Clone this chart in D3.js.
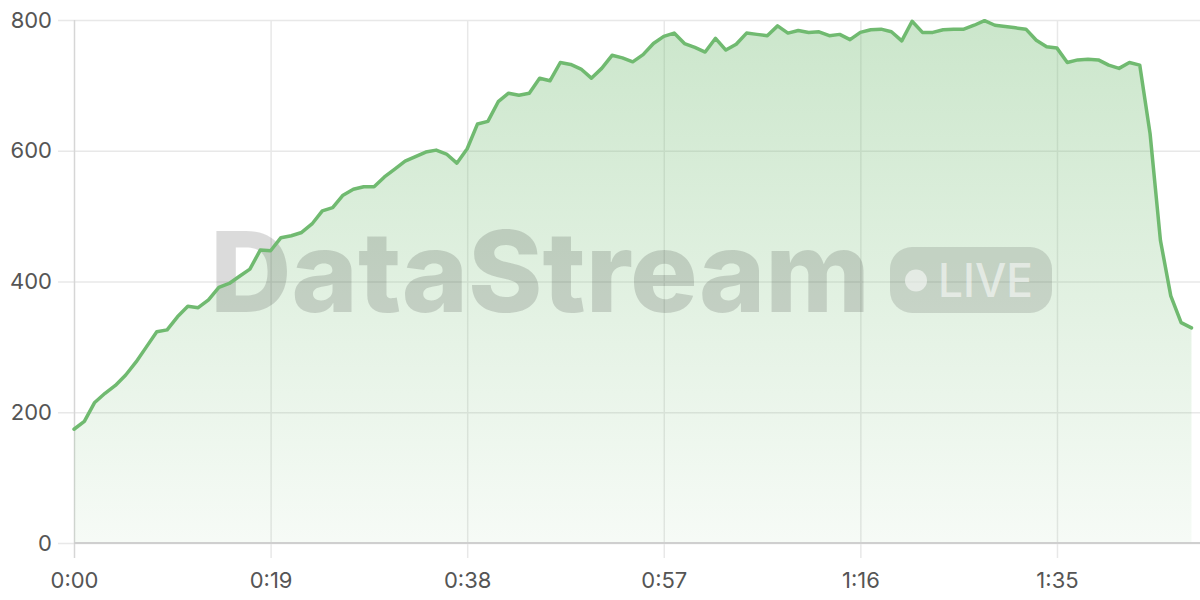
<!DOCTYPE html>
<html>
<head>
<meta charset="utf-8">
<script src="https://cdn.jsdelivr.net/npm/d3@7"></script>
<style>
  html, body { margin: 0; padding: 0; background: #fff; }
  svg { display: block; }
  .tick text { font-family: Inter, "Noto Sans", sans-serif; font-size: 22px; fill: #555; }
</style>
</head>
<body>
<svg id="chart" width="1200" height="600"></svg>
<script>
// one sample per second, index = seconds since start
const throughput = [
  174, 186, 215, 229, 241, 257, 277, 300, 323, 326,
  346, 362, 360, 372, 391, 397, 408, 419, 448, 447,
  467, 470, 475, 488, 508, 513, 532, 541, 545, 545,
  560, 572, 584, 591, 598, 601, 595, 581, 603, 641,
  645, 675, 688, 685, 688, 711, 707, 735, 732, 725,
  711, 726, 746, 742, 736, 747, 764, 775, 780, 764,
  758, 751, 772, 754, 763, 780, 778, 776, 791, 780,
  784, 781, 782, 776, 778, 770, 781, 785, 786, 782,
  768, 798, 781, 781, 785, 786, 786, 792, 799, 792,
  790, 788, 786, 769, 759, 757, 735, 739, 740, 739,
  731, 726, 735, 731, 626, 463, 378, 337, 329
];
const tickSeconds = [0, 19, 38, 57, 76, 95];
const yTicks = [0, 200, 400, 600, 800];

const svg = d3.select('#chart');
const width = 1200;
const plotLeft = 74, plotTop = 20, plotBottom = 543;

const x = d3.scaleLinear()
  .domain([0, throughput.length - 1])
  .range([plotLeft, plotLeft + (throughput.length - 1) * 10.347]);
const y = d3.scaleLinear()
  .domain([0, 800])
  .range([plotBottom, plotTop]);

const fmt = s => `${Math.floor(s / 60)}:${String(s % 60).padStart(2, '0')}`;

// gradient under the line
const grad = svg.append('defs').append('linearGradient')
  .attr('id', 'fillGrad')
  .attr('gradientUnits', 'userSpaceOnUse')
  .attr('x1', 0).attr('x2', 0)
  .attr('y1', y(800)).attr('y2', y(0));
grad.append('stop').attr('offset', '0%').attr('stop-color', '#6fba6f').attr('stop-opacity', 0.36);
grad.append('stop').attr('offset', '100%').attr('stop-color', '#6fba6f').attr('stop-opacity', 0.06);

// horizontal grid + y labels
const yAxis = svg.append('g')
  .attr('transform', 'translate(58,0)')
  .call(d3.axisLeft(y).tickValues(yTicks).tickSize(-(width - 58)).tickPadding(6));
yAxis.select('.domain').remove();
yAxis.selectAll('.tick line').attr('stroke', '#e8e8e8').attr('stroke-width', 1.5);

// vertical grid + x labels
const xAxis = svg.append('g')
  .attr('transform', 'translate(0,558)')
  .call(d3.axisBottom(x).tickValues(tickSeconds).tickFormat(fmt).tickSize(-(558 - plotTop)).tickPadding(14));
xAxis.select('.domain').remove();
xAxis.selectAll('.tick line').attr('stroke', '#e8e8e8').attr('stroke-width', 1.5);
xAxis.selectAll('.tick').filter(d => d === 0).select('line').attr('stroke', '#d6d6d6');

// area
svg.append('path')
  .datum(throughput)
  .attr('fill', 'url(#fillGrad)')
  .attr('d', d3.area()
    .x((d, i) => x(i))
    .y0(y(0))
    .y1(d => y(d)));

// baseline
svg.append('line')
  .attr('x1', plotLeft).attr('x2', width)
  .attr('y1', y(0)).attr('y2', y(0))
  .attr('stroke', '#cfcfcf').attr('stroke-width', 2);

// watermark
const wm = svg.append('g').attr('pointer-events', 'none');
wm.append('text')
  .attr('x', 210).attr('y', 312)
  .attr('textLength', 660)
  .attr('lengthAdjust', 'spacingAndGlyphs')
  .style('font-family', 'Inter, "Noto Sans", sans-serif')
  .style('font-weight', 800)
  .style('font-size', '112px')
  .attr('fill', 'rgba(0,0,0,0.14)')
  .text('DataStream');
wm.append('rect')
  .attr('x', 890).attr('y', 247)
  .attr('width', 162).attr('height', 66)
  .attr('rx', 22)
  .attr('fill', 'rgba(0,0,0,0.12)');
wm.append('circle')
  .attr('cx', 916).attr('cy', 280.5).attr('r', 11)
  .attr('fill', 'rgba(255,255,255,0.55)');
wm.append('text')
  .attr('x', 938).attr('y', 297)
  .attr('textLength', 95)
  .attr('lengthAdjust', 'spacingAndGlyphs')
  .style('font-family', 'Inter, "Noto Sans", sans-serif')
  .style('font-weight', 500)
  .style('font-size', '46px')
  .attr('fill', 'rgba(255,255,255,0.55)')
  .text('LIVE');

// line
svg.append('path')
  .datum(throughput)
  .attr('fill', 'none')
  .attr('stroke', '#70ba70')
  .attr('stroke-width', 3.5)
  .attr('stroke-linejoin', 'round')
  .attr('stroke-linecap', 'round')
  .attr('d', d3.line()
    .x((d, i) => x(i))
    .y(d => y(d)));
</script>
</body>
</html>
